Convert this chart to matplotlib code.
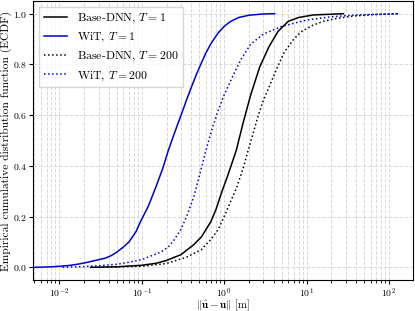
import numpy as np
import matplotlib
matplotlib.use("Agg")
import matplotlib.pyplot as plt

plt.rcParams["font.family"] = "serif"
plt.rcParams["font.serif"] = ["cmr10"]
plt.rcParams["mathtext.fontset"] = "cm"
plt.rcParams["axes.formatter.use_mathtext"] = True

# error values [m] and ECDF values
wit1_x = [0.005, 0.008, 0.01, 0.013, 0.0166, 0.02, 0.025, 0.03, 0.036, 0.042, 0.05, 0.06, 0.07,
          0.085, 0.1, 0.12, 0.15, 0.18, 0.21, 0.25, 0.3, 0.35, 0.4, 0.46, 0.52, 0.6, 0.7, 0.85,
          1.0, 1.2, 1.5, 2.0, 3.0, 4.1]
wit1_y = [0.0, 0.002, 0.004, 0.007, 0.012, 0.017, 0.024, 0.03, 0.036, 0.045, 0.06, 0.08, 0.1,
          0.14, 0.19, 0.24, 0.32, 0.39, 0.46, 0.53, 0.6, 0.66, 0.71, 0.76, 0.8, 0.845, 0.885, 0.925,
          0.95, 0.97, 0.985, 0.994, 0.999, 1.0]

wit200_x = [0.011, 0.02, 0.03, 0.05, 0.07, 0.1, 0.13, 0.17, 0.21, 0.25, 0.3, 0.36, 0.43, 0.5,
            0.6, 0.72, 0.85, 1.0, 1.3, 1.6, 2.1, 3.0, 5.0, 10, 20, 40, 80, 130]
wit200_y = [0.0, 0.003, 0.006, 0.012, 0.02, 0.03, 0.045, 0.06, 0.08, 0.11, 0.15, 0.21, 0.28, 0.36,
            0.46, 0.55, 0.62, 0.68, 0.76, 0.82, 0.88, 0.92, 0.95, 0.975, 0.988, 0.995, 0.998, 1.0]

base1_x = [0.024, 0.05, 0.1, 0.15, 0.2, 0.3, 0.43, 0.53, 0.69, 0.8, 0.92, 1.1, 1.4, 1.7, 2.1,
           2.7, 3.5, 4.5, 6.0, 8.0, 12, 28]
base1_y = [0.0, 0.002, 0.008, 0.016, 0.027, 0.05, 0.09, 0.12, 0.18, 0.23, 0.29, 0.36, 0.46, 0.57,
           0.68, 0.79, 0.87, 0.93, 0.97, 0.985, 0.995, 1.0]

base200_x = [0.03, 0.1, 0.2, 0.35, 0.53, 0.69, 0.85, 1.0, 1.2, 1.4, 1.7, 1.95, 2.3, 2.6, 3.0,
             3.5, 4.3, 5.4, 7.0, 8.7, 12, 16, 22, 35, 60, 130]
base200_y = [0.0, 0.004, 0.015, 0.04, 0.07, 0.11, 0.15, 0.2, 0.26, 0.31, 0.39, 0.46, 0.54, 0.6,
             0.66, 0.71, 0.78, 0.85, 0.9, 0.93, 0.955, 0.97, 0.98, 0.99, 0.996, 1.0]

fig = plt.figure(figsize=(4.15, 3.11), dpi=100)
ax = fig.add_axes([0.0795, 0.0997, 0.9155, 0.897])

ax.plot(base1_x, base1_y, color="black", lw=1.1, label=r"Base-DNN, $T=1$")
ax.plot(wit1_x, wit1_y, color="#0000cc", lw=1.1, label=r"WiT, $T=1$")
ax.plot(base200_x, base200_y, color="black", lw=1.1, ls=":", label=r"Base-DNN, $T=200$")
ax.plot(wit200_x, wit200_y, color="#0000cc", lw=1.1, ls=":", label=r"WiT, $T=200$")

ax.set_xscale("log")
ax.set_xlim(0.0048, 195)
ax.set_ylim(-0.05, 1.05)
ax.set_yticks([0.0, 0.2, 0.4, 0.6, 0.8, 1.0])
ax.grid(True, which="both", axis="x", ls="--", color="#d9d9d9", lw=0.7)
ax.grid(True, which="major", axis="y", ls="--", color="#d9d9d9", lw=0.7)
ax.tick_params(labelsize=7, pad=1.5, length=3)
ax.tick_params(which="minor", length=1.8)

ax.set_xlabel(r"$\|\hat{\mathbf{u}} - \mathbf{u}\|$ [m]", fontsize=7.8)
ax.set_ylabel("Empirical cumulative distribution function (ECDF)", fontsize=8.3)
ax.yaxis.set_label_coords(-0.055, 0.5)
ax.xaxis.set_label_coords(0.5, -0.062)
ax.legend(loc="upper left", fontsize=8.5, fancybox=False, framealpha=0.8)

fig.savefig("out.png", dpi=100)
